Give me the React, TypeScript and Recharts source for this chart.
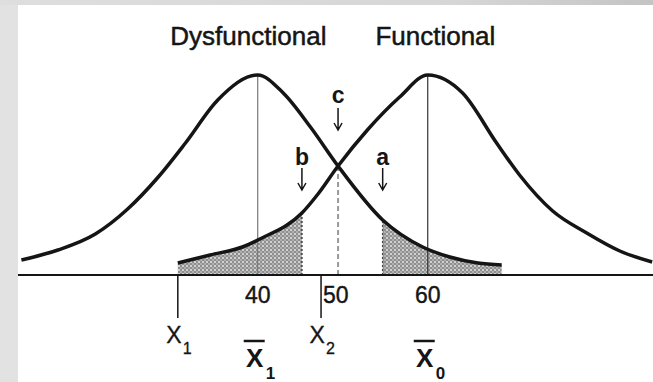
import { ComposedChart, Line, Area, XAxis, YAxis, ReferenceLine, ReferenceDot } from "recharts";

// Dysfunctional group: score vs relative density (peak = 1)
const dysScore = [12.2, 16.5, 20.9, 24.7, 28.3, 31.5, 35.3, 40, 43.0, 46.2, 49.45, 54.7, 59.4, 62.6, 65.9, 68.7];
const dysHeight = [0.075, 0.125, 0.205, 0.33, 0.49, 0.66, 0.875, 1, 0.91, 0.74, 0.545, 0.275, 0.14, 0.09, 0.06, 0.05];

// Functional group
const funScore = [30.6, 34.4, 38.2, 40.5, 45.2, 47.0, 49.45, 52.9, 56.7, 60, 64.1, 68.1, 70.8, 74.7, 78.7, 82.6, 86.4];
const funHeight = [0.06, 0.1, 0.14, 0.185, 0.31, 0.4, 0.545, 0.725, 0.89, 1, 0.91, 0.66, 0.5, 0.32, 0.21, 0.12, 0.065];

// cut points
const cutB = 45.2;
const cutC = 49.45;
const cutA = 54.7;
const means = [40, 60];

// axis labels
const scaleTicks = [40, 50, 60];
const scaleLabels = ["40", "50", "60"];
const markerTicks = [30.6, 40, 47.45, 60];
const markerSubs = ["1", "1", "2", "0"];
const markerBar = [false, true, false, true];

const groupNames = ["Dysfunctional", "Functional"];
const groupNameX = [38.9, 60.9];

const letters = ["c", "b", "a"];
const letterX = [cutC, cutB, cutA];
const letterY = [0.86, 0.55, 0.55];
const arrowTipY = [0.725, 0.425, 0.425];

const dysRows = dysScore.map((x, i) => ({ x, h: dysHeight[i] }));
const funRows = funScore.map((x, i) => ({ x, h: funHeight[i] }));
const funShade = funRows.filter((r) => r.x <= cutB);
const dysShade = dysRows.filter((r) => r.x >= cutA);
const axisTicks = Array.from(new Set([...markerTicks, ...scaleTicks])).sort((a, b) => a - b);

const font = "'Liberation Sans', Arial, sans-serif";
const ink = "#151515";

const AxisTick = (props: any) => {
  const { x, y, payload } = props;
  const v = payload.value;
  const si = scaleTicks.indexOf(v);
  const mi = markerTicks.indexOf(v);
  return (
    <g>
      {si >= 0 && (
        <text x={x + (v === 50 ? -7 : 0)} y={y + 28} textAnchor="middle" fontSize={23} fontFamily={font} fill={ink} stroke={ink} strokeWidth={0.4}>
          {scaleLabels[si]}
        </text>
      )}
      {mi >= 0 && !markerBar[mi] && (
        <g>
          <line x1={x} y1={y} x2={x} y2={y + 43} stroke={ink} strokeWidth={1.5} />
          <text x={x - 4} y={y + 68} textAnchor="middle" fontSize={23} fontFamily={font} fill={ink} stroke={ink} strokeWidth={0.3}>X</text>
          <text x={x + 5} y={y + 79} fontSize={16} fontFamily={font} fill={ink} stroke={ink} strokeWidth={0.3}>{markerSubs[mi]}</text>
        </g>
      )}
      {mi >= 0 && markerBar[mi] && (
        <g>
          <line x1={x - 14} x2={x + 7} y1={y + 66} y2={y + 66} stroke={ink} strokeWidth={2.5} />
          <text x={x - 3} y={y + 92} textAnchor="middle" fontSize={26} fontWeight="bold" fontFamily={font} fill={ink}>X</text>
          <text x={x + 8} y={y + 104} fontSize={17} fontWeight="bold" fontFamily={font} fill={ink}>{markerSubs[mi]}</text>
        </g>
      )}
    </g>
  );
};

const Arrow = (p: any) => (
  <path
    d={`M${p.cx},${p.cy - 22} L${p.cx},${p.cy} M${p.cx - 4},${p.cy - 7} L${p.cx},${p.cy} L${p.cx + 4},${p.cy - 7}`}
    stroke={ink}
    strokeWidth={1.5}
    fill="none"
  />
);

const App = () => {
  return (
    <div style={{ position: "absolute", left: 0, top: 0, width: 653, height: 382, overflow: "hidden", background: "#e2e2e2" }}>
      <div style={{ position: "absolute", left: 0, top: 0, width: 653, height: 5, background: "linear-gradient(to right, #dedede, #d6d6d6 70%, #c4c4c4)" }} />
      <svg width={0} height={0} style={{ position: "absolute" }}>
        <defs>
          <pattern id="stipple" width={4} height={4} patternUnits="userSpaceOnUse">
            <rect width={4} height={4} fill="#8e8e8e" />
            <circle cx={1} cy={1} r={0.9} fill="#f2f2f2" />
            <circle cx={3} cy={3} r={0.8} fill="#e0e0e0" />
          </pattern>
        </defs>
      </svg>
      <div style={{ position: "absolute", left: 18, top: 5, width: 635, height: 377, background: "#fff" }}>
        <ComposedChart width={635} height={377} margin={{ top: 0, right: 0, bottom: 0, left: 0 }}>
          <XAxis
            type="number"
            dataKey="x"
            domain={[11.8, 86.5]}
            allowDataOverflow
            ticks={axisTicks}
            interval={0}
            tick={<AxisTick />}
            tickLine={false}
            tickSize={0}
            tickMargin={0}
            height={107}
            axisLine={{ stroke: ink, strokeWidth: 2 }}
          />
          <YAxis type="number" domain={[0, 1.35]} hide />
          <Area data={funShade} dataKey="h" type="monotone" stroke="none" fill="url(#stipple)" fillOpacity={1} isAnimationActive={false} />
          <Area data={dysShade} dataKey="h" type="monotone" stroke="none" fill="url(#stipple)" fillOpacity={1} isAnimationActive={false} />
          {means.map((m, i) => (
            <ReferenceLine key={m} segment={[{ x: m, y: 0 }, { x: m, y: 1 }]} stroke={i === 0 ? "#777" : "#333"} strokeWidth={1.2} />
          ))}
          <ReferenceLine segment={[{ x: cutB, y: 0 }, { x: cutB, y: 0.31 }]} stroke="#444" strokeWidth={1.5} strokeDasharray="2 2" />
          <ReferenceLine segment={[{ x: cutA, y: 0 }, { x: cutA, y: 0.275 }]} stroke="#444" strokeWidth={1.5} strokeDasharray="2 2" />
          <ReferenceLine segment={[{ x: cutC, y: 0 }, { x: cutC, y: 0.545 }]} stroke="#999" strokeWidth={2} strokeDasharray="5 3" />
          <Line data={dysRows} dataKey="h" type="monotone" stroke={ink} strokeWidth={3.5} dot={false} isAnimationActive={false} />
          <Line data={funRows} dataKey="h" type="monotone" stroke={ink} strokeWidth={3.5} dot={false} isAnimationActive={false} />
          {groupNames.map((g, i) => (
            <ReferenceDot
              key={g}
              x={groupNameX[i]}
              y={1.15}
              r={0}
              shape={(p: any) => (
                <text x={p.cx} y={p.cy} textAnchor="middle" fontSize={26} fontFamily={font} fill={ink} stroke={ink} strokeWidth={0.5}>
                  {g}
                </text>
              )}
            />
          ))}
          {letters.map((l, i) => (
            <ReferenceDot
              key={l}
              x={letterX[i]}
              y={letterY[i]}
              r={0}
              shape={(p: any) => (
                <text x={p.cx} y={p.cy} textAnchor="middle" fontSize={23} fontWeight="bold" fontFamily={font} fill={ink}>
                  {l}
                </text>
              )}
            />
          ))}
          {letters.map((l, i) => (
            <ReferenceDot key={"ar" + l} x={letterX[i]} y={arrowTipY[i]} r={0} shape={<Arrow />} />
          ))}
        </ComposedChart>
      </div>
    </div>
  );
};

export default App;
